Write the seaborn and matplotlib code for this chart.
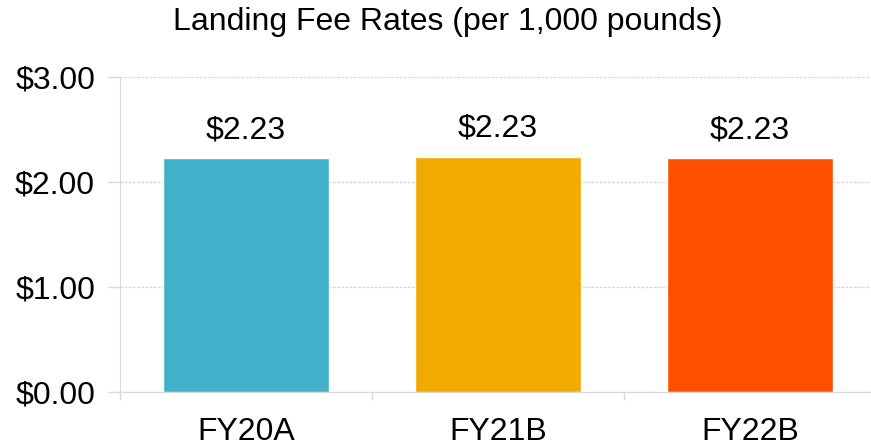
import numpy as np
import pandas as pd
import seaborn as sns
import matplotlib.pyplot as plt
from matplotlib.ticker import FixedLocator

# Landing fee rate per year
years = ['FY20A', 'FY21B', 'FY22B']
rates = [2.225, 2.235, 2.225]
rate_labels = ['$2.23', '$2.23', '$2.23']
bar_colors = ['#41B0C9', '#F2A900', '#FF5000']
y_ticks = [0, 1, 2, 3]
y_tick_labels = ['$0.00', '$1.00', '$2.00', '$3.00']

sns.set_style('white')
plt.rcParams['font.family'] = ['Liberation Sans', 'DejaVu Sans']
plt.rcParams['text.color'] = 'black'
plt.rcParams['xtick.color'] = 'black'
plt.rcParams['ytick.color'] = 'black'

df = pd.DataFrame({'year': years, 'rate': rates})

fig = plt.figure(figsize=(8.71, 4.48), dpi=100)
ax = fig.add_axes([120/871, 56/448, 751/871, 315/448])

sns.barplot(data=df, x='year', y='rate', hue='year', palette=bar_colors,
            width=0.66, legend=False, saturation=1, ax=ax, zorder=3)

ax.set_ylim(0, 3.0)
ax.set_xlim(-0.5, 2.48)
ax.set_yticks(y_ticks)
ax.set_yticklabels(y_tick_labels)
ax.grid(axis='y', color='#D9D9D9', linestyle=(0, (2, 1)), linewidth=1, zorder=0)
ax.xaxis.set_minor_locator(FixedLocator([-0.5, 0.5, 1.5]))
ax.tick_params(axis='x', which='minor', bottom=True, length=6, color='#D9D9D9', width=1)
ax.tick_params(axis='x', which='major', bottom=False, length=0, pad=18, labelsize=23)
ax.tick_params(axis='y', left=True, length=9, color='#D9D9D9', width=1, pad=9, labelsize=23)
for s in ['top', 'right']:
    ax.spines[s].set_visible(False)
for s in ['left', 'bottom']:
    ax.spines[s].set_color('#D9D9D9')
    ax.spines[s].set_linestyle((0, (2, 1)))
ax.set_xlabel('')
ax.set_ylabel('')

for i, (v, lab) in enumerate(zip(rates, rate_labels)):
    ax.text(i, v + 0.27, lab, ha='center', va='center', fontsize=23)

fig.text(448/871, 1 - 22/448, 'Landing Fee Rates (per 1,000 pounds)', ha='center', va='center', fontsize=23)

plt.savefig('out.png', dpi=100)
